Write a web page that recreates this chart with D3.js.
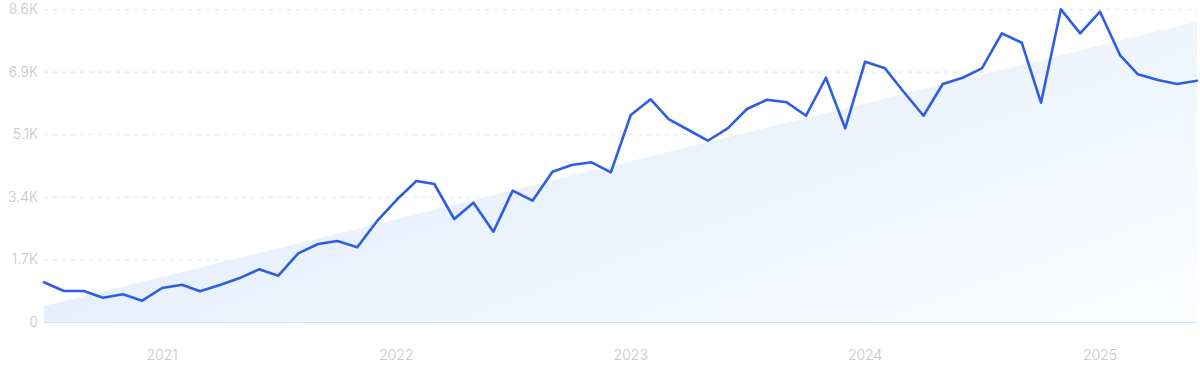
<!DOCTYPE html>
<html>
<head>
  <meta charset="utf-8">
  <title>Trend</title>
  <script src="https://d3js.org/d3.v7.min.js"></script>
  <style>
    body { margin: 0; background: #fff; }
    svg { display: block; }
  </style>
</head>
<body>
  <svg id="grafico"></svg>

  <script>
    // monthly values, Jul 2020 .. Jun 2025
    const inicio = new Date(2020, 6, 1);
    const valores = [
      1088, 850, 850, 666, 759, 584,
      932, 1023, 841, 1014, 1197, 1444, 1270, 1882, 2138, 2220, 2047, 2749,
      3344, 3865, 3783, 2823, 3270, 2475, 3599, 3325, 4120, 4303, 4377, 4103,
      5674, 6104, 5564, 5263, 4969, 5309, 5838, 6093, 6022, 5655, 6696, 5309,
      7135, 6954, 6313, 5655, 6524, 6696, 6954, 7913, 7656, 6011, 8571, 7913,
      8505, 7318, 6789, 6633, 6524, 6614
    ];
    // trend line endpoints (first month, last month)
    const tendencia = [438, 8240];

    const ticksY = [0, 1716, 3432, 5148, 6864, 8580];
    const etiquetasY = ["0", "1.7K", "3.4K", "5.1K", "6.9K", "8.6K"];
    const anios = [2021, 2022, 2023, 2024, 2025];

    const datos = valores.map((v, i) => ({ fecha: d3.timeMonth.offset(inicio, i), valor: v }));

    const ancho = 1200, alto = 371;
    const margen = { top: 9, right: 3, bottom: 49, left: 44 };

    const svg = d3.select("#grafico")
      .attr("width", ancho)
      .attr("height", alto);

    const x = d3.scaleTime()
      .domain([datos[0].fecha, datos[datos.length - 1].fecha])
      .range([margen.left, ancho - margen.right]);

    const y = d3.scaleLinear()
      .domain([0, 8580])
      .range([alto - margen.bottom, margen.top]);

    const defs = svg.append("defs");
    const grad = defs.append("linearGradient")
      .attr("id", "relleno")
      .attr("x1", "0").attr("y1", "0.3")
      .attr("x2", "1").attr("y2", "1");
    grad.append("stop").attr("offset", "0").attr("stop-color", "#dbe9fb");
    grad.append("stop").attr("offset", "0.5").attr("stop-color", "#edf4fd");
    grad.append("stop").attr("offset", "1").attr("stop-color", "#fcfdff");

    // gridlines
    svg.append("g")
      .selectAll("line")
      .data(ticksY.slice(1))
      .enter()
      .append("line")
      .attr("x1", margen.left)
      .attr("x2", ancho - margen.right)
      .attr("y1", d => y(d) + 0.5)
      .attr("y2", d => y(d) + 0.5)
      .style("stroke", "#d3e5fa")
      .style("stroke-dasharray", "4,5");

    // trend area
    const primero = datos[0].fecha, ultimo = datos[datos.length - 1].fecha;
    const areaTendencia = [
      { fecha: primero, valor: tendencia[0] },
      { fecha: ultimo, valor: tendencia[1] }
    ];
    svg.append("path")
      .datum(areaTendencia)
      .attr("d", d3.area()
        .x(d => x(d.fecha))
        .y0(y(0))
        .y1(d => y(d.valor)))
      .style("fill", "url(#relleno)");

    // baseline
    svg.append("line")
      .attr("x1", margen.left)
      .attr("x2", ancho - margen.right)
      .attr("y1", y(0) + 0.5)
      .attr("y2", y(0) + 0.5)
      .style("stroke", "#cae3fb");

    // y labels
    svg.append("g")
      .selectAll("text")
      .data(ticksY)
      .enter()
      .append("text")
      .attr("x", 38)
      .attr("y", d => y(d))
      .attr("dy", "0.35em")
      .attr("text-anchor", "end")
      .style("font-family", "Inter, sans-serif")
      .style("font-size", "14px")
      .style("font-weight", 300)
      .style("fill", "#c4c5ce")
      .text((d, i) => etiquetasY[i]);

    // x labels
    svg.append("g")
      .selectAll("text")
      .data(anios)
      .enter()
      .append("text")
      .attr("x", d => x(new Date(d, 0, 1)))
      .attr("y", 355)
      .attr("dy", "0.35em")
      .attr("text-anchor", "middle")
      .style("font-family", "Inter, sans-serif")
      .style("font-size", "14px")
      .style("font-weight", 300)
      .style("fill", "#c4c5ce")
      .text(d => d);

    // line
    svg.append("path")
      .datum(datos)
      .attr("d", d3.line()
        .x(d => x(d.fecha))
        .y(d => y(d.valor)))
      .style("fill", "none")
      .style("stroke", "#2d5de4")
      .style("stroke-width", 2.6)
      .style("stroke-linejoin", "round")
      .style("stroke-linecap", "round");
  </script>
</body>
</html>
